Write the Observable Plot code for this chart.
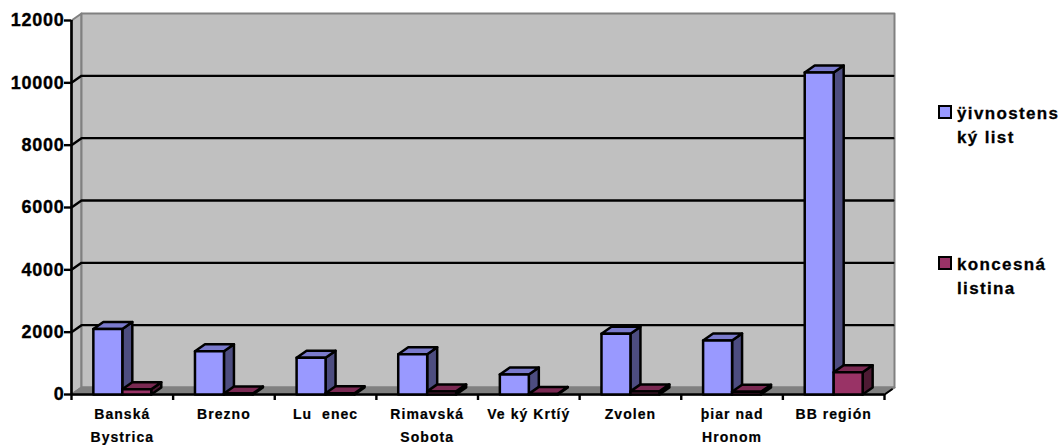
<!DOCTYPE html>
<html>
<head>
<meta charset="utf-8">
<script src="https://cdn.jsdelivr.net/npm/d3@7"></script>
<script src="https://cdn.jsdelivr.net/npm/@observablehq/plot@0.6"></script>
<style>
html,body{margin:0;padding:0;background:#fff;width:1061px;height:445px;overflow:hidden}
#wrap{position:relative;width:1061px;height:445px}
svg{display:block}
.ax text{font:bold 18px "Liberation Sans",Arial,sans-serif;letter-spacing:.75px;fill:#000;stroke:#000;stroke-width:.35px}
.cat text{font:bold 14px "Liberation Sans",Arial,sans-serif;letter-spacing:1.05px;fill:#000;stroke:#000;stroke-width:.2px}
.leg{position:absolute;left:938px;font:bold 17px/24px "Liberation Sans",Arial,sans-serif;letter-spacing:1.35px;color:#000;-webkit-text-stroke:.3px #000}
.leg i{position:absolute;left:0;top:3px;width:10px;height:10px;border:2.5px solid #000;box-sizing:content-box}
.leg span{display:block;margin-left:19px;white-space:pre}
</style>
</head>
<body>
<div id="wrap"></div>
<script>
const categories = ["Banská\nBystrica","Brezno","Lu  enec","Rimavská\nSobota","Ve ký Krtíý","Zvolen","þiar nad\nHronom","BB región"];
const zivnostensky = [2100,1390,1180,1290,640,1950,1730,10330];
const koncesna = [170,30,40,100,20,100,90,715];
const yTicks = [0,2000,4000,6000,8000,10000,12000];
const gridValues = [2000,4000,6000,8000,10000];
const seriesColors = {
  blue:{front:"#9999FF",top:"#7A7ACC",side:"#4D4D80"},
  red:{front:"#993366",top:"#7A2952",side:"#4D1A33"}
};
const n = categories.length, DX = 10/101.625, DY = 7*12000/374;
const poly = [];
let id = 0;
const add = (fill, stroke, pts) => { id++; [...pts, pts[0]].forEach(p => poly.push({id, x:p[0], y:p[1], fill, stroke})); };
// walls and floor
const wallFill = "#C0C0C0", edge = "#808080";
add(wallFill, edge, [[0,0],[DX,DY],[DX,12000+DY],[0,12000]]);
add(wallFill, edge, [[DX,DY],[n+DX,DY],[n+DX,12000+DY],[DX,12000+DY]]);
add(edge, edge, [[0,0],[n,0],[n+DX,DY],[DX,DY]]);
// gridlines
const grid = [];
gridValues.forEach(v => [[0,v],[DX,v+DY],[n+DX-0.012,v+DY]].forEach(p => grid.push({v,x:p[0],y:p[1]})));
// bars
const bars = [];
const box = (x0,x1,v,c) => {
  id++; [[x1,0],[x1+DX,DY],[x1+DX,v+DY],[x1,v],[x1,0]].forEach(p=>bars.push({id,x:p[0],y:p[1],fill:c.side}));
  id++; [[x0,v],[x1,v],[x1+DX,v+DY],[x0+DX,v+DY],[x0,v]].forEach(p=>bars.push({id,x:p[0],y:p[1],fill:c.top}));
  id++; [[x0,0],[x1,0],[x1,v],[x0,v],[x0,0]].forEach(p=>bars.push({id,x:p[0],y:p[1],fill:c.front}));
};
categories.forEach((c,i)=>{
  box(i+0.215,i+0.5,zivnostensky[i],seriesColors.blue);
  box(i+0.5,i+0.785,koncesna[i],seriesColors.red);
});
const chart = Plot.plot({
  width:1061,height:445,marginLeft:71,marginRight:177,marginTop:20,marginBottom:51,
  style:{background:"#fff",overflow:"visible"},
  x:{type:"linear",domain:[0,n],axis:null},
  y:{type:"linear",domain:[0,12000],axis:null},
  color:{type:"identity"},
  marks:[
    Plot.line(poly,{x:"x",y:"y",z:"id",fill:"fill",stroke:"stroke",strokeWidth:2,curve:"linear"}),
    Plot.line(grid,{x:"x",y:"y",z:"v",stroke:"#000",strokeWidth:2.4}),
    Plot.line([[n,0],[n+DX*0.75,DY*0.75]],{x:d=>d[0],y:d=>d[1],stroke:"#000",strokeWidth:2}),
    Plot.ruleX([0],{y1:0,y2:12000,stroke:"#000",strokeWidth:2.6}),
    Plot.ruleY([0],{x1:0,x2:n,stroke:"#000",strokeWidth:2.6}),
    Plot.line(bars,{x:"x",y:"y",z:"id",fill:"fill",stroke:"#000",strokeWidth:2.5,strokeLinejoin:"round"}),
    Plot.axisY({anchor:"left",ticks:yTicks,tickSize:7,tickPadding:0,tickFormat:d=>String(d),strokeWidth:2.4,stroke:"#000",label:null,className:"ax"}),
    Plot.axisX({anchor:"bottom",ticks:d3.range(n+1),tickSize:6,tickFormat:()=>"",strokeWidth:2.4,stroke:"#000",label:null}),
    Plot.text(categories,{x:(d,i)=>i+0.5,y:()=>0,dy:8,lineHeight:1.65,lineAnchor:"top",text:d=>d,className:"cat",textAnchor:"middle"})
  ]
});
const wrap = document.getElementById("wrap");
wrap.appendChild(chart);
const legendItems = [
  {lines:"ÿivnostens\nký list",fill:seriesColors.blue.front,top:102},
  {lines:"koncesná\nlistina",fill:seriesColors.red.front,top:253}
];
legendItems.forEach(l=>{
  const d=document.createElement("div");d.className="leg";d.style.top=l.top+"px";
  const i=document.createElement("i");i.style.background=l.fill;d.appendChild(i);
  const s=document.createElement("span");s.textContent=l.lines;d.appendChild(s);
  wrap.appendChild(d);
});
</script>
</body>
</html>
